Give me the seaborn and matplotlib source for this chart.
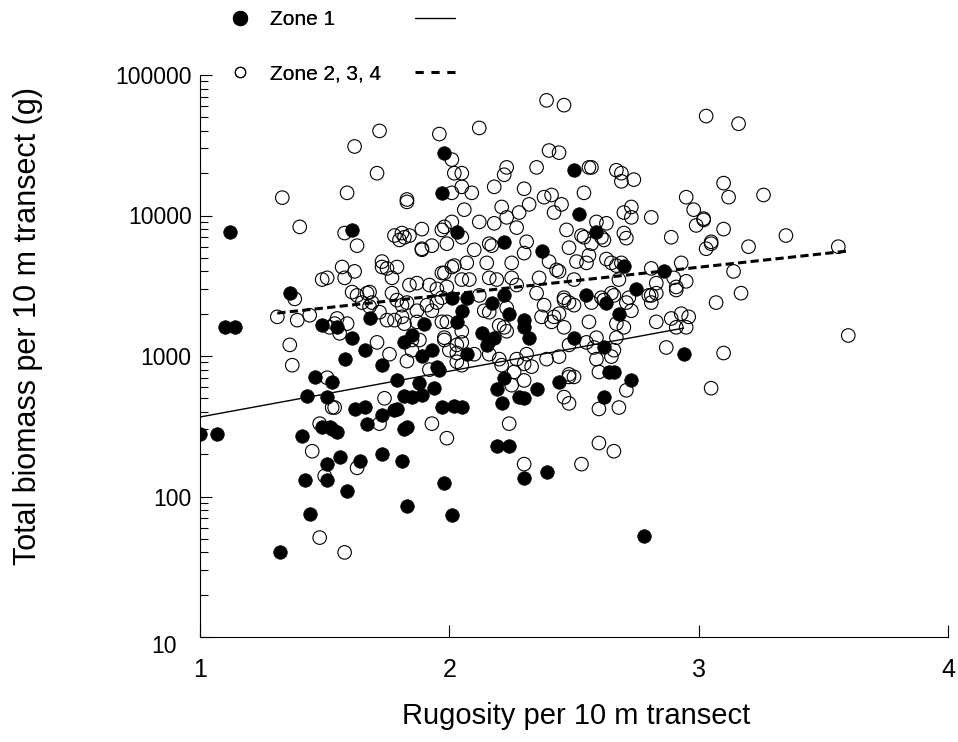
import matplotlib
matplotlib.use("Agg")
import matplotlib.pyplot as plt
import matplotlib.ticker as mticker
import matplotlib.transforms as mtransforms
from matplotlib.lines import Line2D
import seaborn as sns
import pandas as pd

# ---------------- data ----------------
zone1_rugosity = [1.12, 1.10, 1.14, 1.36, 1.49, 1.46, 1.53, 1.43, 1.51, 1.00, 1.07, 1.41, 1.49, 1.52, 1.53,
                  1.51, 1.42, 1.51, 1.44, 1.32, 1.79, 1.88, 1.94, 1.62, 1.66, 1.73, 1.78, 1.79, 1.82, 1.85,
                  1.89, 1.67, 1.55, 1.82, 1.83, 1.97, 2.02, 1.56, 1.64, 1.73, 1.81, 1.59, 1.98, 1.83, 2.01,
                  1.61, 2.03, 1.97, 1.68, 1.90, 2.01, 2.03, 1.55, 1.61, 1.66, 1.58, 1.73, 1.82, 1.85, 1.89,
                  1.93, 1.95, 1.98, 2.50, 2.22, 2.37, 2.52, 2.59, 2.70, 2.86, 2.75, 2.55, 2.63, 2.68, 2.50,
                  2.62, 2.64, 2.66, 2.73, 2.62, 2.94, 2.78, 2.07, 2.22, 2.17, 2.05, 2.24, 2.13, 2.30, 2.30,
                  2.32, 2.18, 2.15, 2.07, 1.96, 2.22, 2.19, 2.21, 2.28, 2.30, 2.35, 2.44, 2.05, 2.19, 2.24,
                  2.30, 2.39]
zone1_biomass = [7600, 1600, 1600, 2800, 1650, 710, 650, 520, 510, 280, 280, 270, 310, 310, 300,
                 170, 130, 130, 75, 40, 670, 640, 590, 420, 430, 380, 410, 420, 520, 510,
                 530, 330, 290, 300, 310, 430, 440, 190, 180, 200, 180, 110, 125, 85, 74,
                 7900, 7600, 14500, 1850, 1700, 2600, 1750, 1600, 1350, 1100, 950, 860, 1250, 1400, 1000,
                 1100, 840, 28000, 21000, 6500, 5600, 10200, 7600, 4400, 4000, 3000, 2700, 2400, 2000, 1350,
                 1150, 770, 770, 670, 510, 1030, 52, 2600, 2700, 2400, 2100, 2000, 1450, 1800, 1600,
                 1350, 1350, 1200, 1030, 800, 700, 580, 460, 510, 500, 580, 650, 430, 230, 230,
                 135, 150]

zone234_rugosity = [
    1.33, 1.40, 1.49, 1.51, 1.38, 1.31, 1.39, 1.44, 1.52, 1.54, 1.36, 1.37, 1.51, 1.48, 1.45, 1.50, 1.48, 1.53,
    1.74, 1.72, 1.63, 1.93, 1.99, 1.58, 1.54,
    1.71, 1.59, 1.83, 1.83, 1.58, 1.63, 1.78, 1.81, 1.82, 1.80, 1.84, 1.89, 1.89, 1.89, 1.93, 1.97, 1.99, 2.01,
    1.73, 1.73, 1.75, 1.79, 1.57, 1.58, 1.62, 1.77, 1.98, 2.01, 1.84, 1.87, 1.92, 1.95, 1.99,
    1.61, 1.63, 1.67, 1.68, 1.77, 1.65, 1.69, 1.79, 1.81, 1.83, 1.91, 1.95,
    1.75, 1.78, 1.81, 1.82, 1.87, 1.87, 1.93, 1.97, 1.72, 1.68, 1.59, 1.55, 1.56,
    1.71, 1.76, 1.85, 1.88, 1.83, 1.85, 1.92, 1.98, 2.00, 2.03, 2.03,
    2.39, 2.46, 2.12, 1.96, 2.01, 2.02, 2.05, 2.23, 2.22, 2.35, 2.40, 2.44, 2.18, 2.30, 2.01, 2.05, 2.09,
    2.38, 2.41, 2.45, 2.42, 2.32, 2.21, 2.06, 2.28, 2.23, 2.18, 2.12, 2.27, 2.47, 1.98, 2.05, 2.31, 2.10,
    2.16, 2.17, 2.25, 2.30, 2.15, 2.02, 2.07, 1.97, 2.40, 2.48, 2.43, 2.44, 2.36, 2.05, 2.08, 2.16, 2.19,
    2.27, 2.25, 2.46, 2.50, 1.62, 1.72,
    3.03, 2.56, 2.57, 2.67, 2.69, 2.69, 2.74, 2.54, 2.95, 2.98, 3.02, 2.99, 2.73, 2.70, 2.73, 2.81, 2.89,
    2.70, 2.71, 2.63, 2.59, 2.53, 2.54, 2.61, 2.62, 2.57, 2.56, 2.55, 2.51, 2.63, 2.65, 2.69, 2.67, 2.81,
    2.93, 3.03, 3.05, 2.90, 2.95, 2.91, 2.83, 2.68, 2.65, 2.61, 2.83, 2.80, 2.72,
    3.16, 3.10, 3.12, 3.26, 3.02, 3.10, 3.05, 3.20, 3.35, 3.56, 3.14, 3.17, 3.07, 3.60, 3.10, 3.05,
    2.48, 2.50, 2.57, 2.62, 2.66, 2.71, 2.73, 2.81, 2.81, 2.91, 2.56, 2.67, 2.70, 2.83, 2.89, 2.93, 2.96,
    2.91, 2.95, 2.55, 2.59, 2.67, 2.48, 2.58, 2.66, 2.59, 2.65, 2.87, 2.60, 2.71, 2.48, 2.50, 2.60, 2.68,
    2.48, 2.60, 2.66, 2.53,
    1.97, 2.12, 2.14, 2.16, 2.23, 2.35, 2.38, 2.37, 2.41, 2.42, 2.44, 2.46, 2.46, 1.99, 2.05, 2.20, 2.22,
    2.23, 1.98, 2.03, 2.05, 2.10, 2.16, 2.20, 2.21, 2.27, 2.31, 2.30, 2.33, 2.26, 2.39, 2.44, 2.05, 2.25,
    2.30, 2.46, 2.48, 2.24, 2.30]
zone234_biomass = [
    13400, 8300, 3500, 3600, 2550, 1900, 1800, 1950, 1600, 1700, 1200, 860, 700, 330, 210, 140, 51, 430,
    500, 330, 160, 330, 260, 40, 430,
    20000, 14500, 13000, 12500, 7500, 6100, 7200, 7500, 7000, 6700, 7200, 8000, 5800, 5700, 6100, 7900, 6300, 9000,
    4700, 4300, 4200, 4300, 4300, 3600, 4000, 3600, 3900, 4300, 3200, 3300, 3200, 3000, 3100,
    2850, 2700, 2800, 2850, 2800, 2400, 2400, 2500, 2300, 2400, 2300, 2400,
    1800, 1800, 1900, 1700, 2100, 1750, 2100, 1750, 2050, 2250, 1700, 1850, 1450,
    1250, 1030, 1300, 1300, 920, 1100, 800, 1300, 1100, 1050, 910,
    66000, 61000, 42000, 38000, 25000, 20000, 20000, 22000, 19500, 22000, 29000, 28000, 16000, 15500, 14500, 16000, 14500,
    13500, 14000, 12000, 10500, 12000, 11500, 11000, 10500, 9700, 8800, 9000, 8200, 7900, 8300, 7000, 6500, 5700,
    6300, 6100, 4600, 5400, 4600, 4400, 4600, 3900, 4700, 5900, 4100, 4000, 3600, 3500, 3500, 3600, 3500,
    3200, 3600, 2600, 3500, 31000, 40000,
    51000, 22000, 22000, 21000, 20000, 17500, 18000, 14500, 13500, 11000, 9300, 8500, 11500, 10500, 9700, 9700, 7000,
    7500, 6900, 8800, 9000, 7200, 7000, 7000, 6700, 6300, 5200, 4600, 4700, 4900, 4600, 4600, 4400, 4200,
    4600, 5800, 6500, 3600, 3400, 3100, 3300, 3500, 2800, 2600, 2800, 2700, 2600,
    45000, 17000, 13500, 14000, 9500, 8000, 6300, 6000, 7200, 6000, 4000, 2800, 2400, 1400, 1050, 590,
    2400, 2300, 2400, 2500, 2700, 2400, 2100, 2700, 2400, 2950, 1750, 1700, 1600, 1750, 1850, 2000, 1900,
    1600, 1600, 1250, 1350, 1350, 1200, 1150, 1100, 950, 990, 1150, 770, 570, 710, 710, 420, 430,
    460, 240, 210, 170,
    2600, 2700, 2100, 2050, 2200, 2800, 2300, 1900, 1750, 1900, 2000, 2500, 1600, 1750, 1500, 1650, 1600,
    1500, 1350, 1200, 1250, 1030, 1030, 950, 860, 950, 1030, 880, 840, 770, 950, 990, 860, 620,
    670, 510, 740, 330, 170]

# fitted regression lines (end points)
zone1_fit_x = [1.00, 2.94]
zone1_fit_y = [368, 1580]
zone234_fit_x = [1.31, 3.595]
zone234_fit_y = [2020, 5580]

legend_labels = ["Zone 1", "Zone 2, 3, 4"]
x_label = "Rugosity per 10 m transect"
y_label = "Total biomass per 10 m transect (g)"
x_ticks = [1, 2, 3, 4]
y_ticks = [10, 100, 1000, 10000, 100000]

# ---------------- style ----------------
sns.set_style("ticks")
plt.rcParams["font.family"] = ["Liberation Sans", "DejaVu Sans"]
plt.rcParams["text.color"] = "black"
plt.rcParams["axes.labelcolor"] = "black"
plt.rcParams["xtick.color"] = "black"
plt.rcParams["ytick.color"] = "black"

fig = plt.figure(figsize=(9.58, 7.42), dpi=100)
ax = fig.add_axes([200 / 958, 1 - 637 / 742, 748 / 958, 562 / 742])

df2 = pd.DataFrame({"x": zone234_rugosity, "y": zone234_biomass})
df1 = pd.DataFrame({"x": zone1_rugosity, "y": zone1_biomass})

sns.scatterplot(data=df2, x="x", y="y", ax=ax, marker="o", s=95,
                facecolor="none", edgecolor="black", linewidth=0.8, zorder=2)
sns.scatterplot(data=df1, x="x", y="y", ax=ax, marker="o", s=95,
                color="black", edgecolor="black", linewidth=0.5, zorder=3)

sns.lineplot(x=zone1_fit_x, y=zone1_fit_y, ax=ax, color="black", linewidth=1.0, zorder=4)
sns.lineplot(x=zone234_fit_x, y=zone234_fit_y, ax=ax, color="black", linewidth=2.2,
             linestyle=(0, (2.7, 1.4)), zorder=4)

ax.set_yscale("log")
ax.set_xlim(1, 4)
ax.set_ylim(10, 100000)
ax.set_xticks(x_ticks)
ax.set_xticklabels([str(t) for t in x_ticks])
ax.yaxis.set_major_locator(mticker.FixedLocator(y_ticks))
ax.yaxis.set_major_formatter(mticker.FuncFormatter(lambda v, p: f"{v:.0f}"))
ax.yaxis.set_minor_locator(mticker.LogLocator(base=10, subs=range(2, 10), numticks=20))
ax.yaxis.set_minor_formatter(mticker.NullFormatter())

for s in ["top", "right"]:
    ax.spines[s].set_visible(False)
for s in ["left", "bottom"]:
    ax.spines[s].set_linewidth(0.8)
    ax.spines[s].set_color("black")

ax.tick_params(axis="both", which="major", direction="in", length=8.5, width=0.8,
               color="black", labelcolor="black")
ax.tick_params(axis="x", which="major", labelsize=18, pad=15)
ax.tick_params(axis="y", which="major", labelsize=16.5, pad=6)
ax.tick_params(axis="y", which="minor", direction="in", length=5.8, width=0.8, color="black")

ax.set_xlabel(x_label, fontsize=21, color="black")
ax.set_ylabel(y_label, fontsize=22, color="black")
ax.xaxis.set_label_coords(0.503, -0.115)
ax.yaxis.set_label_coords(-0.2100, 0.553)

# the lowest y tick label sits a little lower and further left, as in the chart
fig.canvas.draw()
low_label = ax.yaxis.get_major_ticks()[0].label1
low_label.set_transform(low_label.get_transform() +
                        mtransforms.ScaledTranslation(-15 / 100, -7 / 100, fig.dpi_scale_trans))

# ---------------- legend ----------------
marker_handles = [
    Line2D([], [], marker="o", linestyle="none", markersize=10, markerfacecolor="black",
           markeredgecolor="black"),
    Line2D([], [], marker="o", linestyle="none", markersize=7.5, markerfacecolor="none",
           markeredgecolor="black", markeredgewidth=0.8),
]
line_handles = [
    Line2D([], [], color="black", linewidth=1.0),
    Line2D([], [], color="black", linewidth=2.2, linestyle=(0, (2.7, 2.5))),
]
leg1 = fig.legend(marker_handles, legend_labels, loc="upper left",
                  bbox_to_anchor=(229.6 / 958, 1 - 10 / 742), frameon=False, fontsize=15,
                  handlelength=1.0, handletextpad=0.94, labelspacing=1.7, borderpad=0,
                  borderaxespad=0, labelcolor="black")
leg2 = fig.legend(line_handles, ["", ""], loc="upper left",
                  bbox_to_anchor=(415 / 958, 1 - 10 / 742), frameon=False, fontsize=15,
                  handlelength=1.92, handletextpad=0, labelspacing=1.7, borderpad=0,
                  borderaxespad=0)
fig.add_artist(leg1)

fig.savefig("out.png", dpi=100)
